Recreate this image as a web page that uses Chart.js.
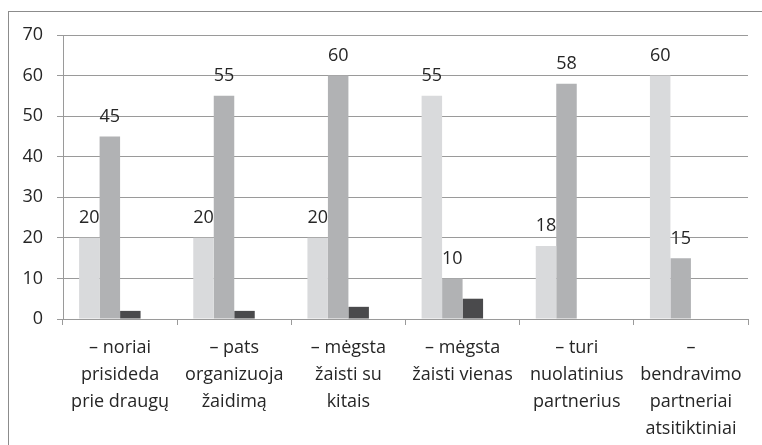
<!DOCTYPE html>
<html>
<head>
<meta charset="utf-8">
<script src="https://cdn.jsdelivr.net/npm/chart.js@4.4.0/dist/chart.umd.min.js"></script>
<style>
  html, body { margin: 0; padding: 0; background: #fff; overflow: hidden; }
  #frame { position: absolute; left: 8px; top: 11px; width: 800px; height: 500px; border: 1px solid #8c8c8c; }
  #chart { position: absolute; left: 0; top: 0; }
</style>
</head>
<body>
<div id="frame"></div>
<canvas id="chart" width="762" height="445"></canvas>
<script>
// Kategorijos (eilutėmis, kaip ant ašies)
const categories = [
    ['– noriai', 'prisideda', 'prie draugų'],
    ['– pats', 'organizuoja', 'žaidimą'],
    ['– mėgsta', 'žaisti su', 'kitais'],
    ['– mėgsta', 'žaisti vienas'],
    ['– turi', 'nuolatinius', 'partnerius'],
    ['–', 'bendravimo', 'partneriai', 'atsitiktiniai']
];

// Serijų reikšmės
const seriesA = [20, 20, 20, 55, 18, 60];
const seriesB = [45, 55, 60, 10, 58, 15];
const seriesC = [2, 2, 3, 5, 0, 0];
const seriesD = [null, null, null, null, null, null]; // tuščia serija (vieta grupėje)

const yTicks = [0, 10, 20, 30, 40, 50, 60, 70];

const FONT = { family: '"Open Sans", sans-serif', size: 18 };
const TEXT_COLOR = '#262626';
const GRID_COLOR = '#9a9a9a';

// Reikšmių etiketės virš pirmų dviejų serijų stulpelių
const valueLabels = {
    id: 'valueLabels',
    afterDatasetsDraw(chart) {
        const ctx = chart.ctx;
        ctx.save();
        ctx.font = `${FONT.size}px ${FONT.family}`;
        ctx.fillStyle = TEXT_COLOR;
        ctx.textAlign = 'center';
        ctx.textBaseline = 'alphabetic';
        [0, 1].forEach(di => {
            const meta = chart.getDatasetMeta(di);
            meta.data.forEach((bar, i) => {
                const v = chart.data.datasets[di].data[i];
                if (v === null || v === undefined) return;
                ctx.fillText(String(v), bar.x, bar.y - 14.5);
            });
        });
        ctx.restore();
    }
};

new Chart(document.getElementById('chart'), {
    type: 'bar',
    data: {
        labels: categories,
        datasets: [
            { label: 'A', data: seriesA, backgroundColor: '#d9dadc' },
            { label: 'B', data: seriesB, backgroundColor: '#b1b2b4' },
            { label: 'C', data: seriesC, backgroundColor: '#4a4a4c' },
            { label: 'D', data: seriesD, backgroundColor: '#ffffff' }
        ]
    },
    options: {
        responsive: false,
        animation: false,
        devicePixelRatio: 1,
        layout: { padding: { top: 35, right: 14, left: 0, bottom: 0 } },
        datasets: {
            bar: { barPercentage: 1, categoryPercentage: 0.718, borderWidth: 0 }
        },
        plugins: {
            legend: { display: false },
            tooltip: { enabled: false }
        },
        scales: {
            x: {
                grid: { drawOnChartArea: false, drawTicks: true, tickLength: 6, color: GRID_COLOR, offset: true },
                border: { color: GRID_COLOR },
                ticks: { font: { ...FONT, lineHeight: 1.5 }, color: TEXT_COLOR, padding: 9, maxRotation: 0, autoSkip: false },
                afterFit(scale) { scale.height = 126; }
            },
            y: {
                min: 0,
                max: 70,
                grid: { color: GRID_COLOR, tickLength: 6 },
                border: { color: GRID_COLOR },
                ticks: {
                    stepSize: 10,
                    font: FONT,
                    color: TEXT_COLOR,
                    padding: 14,
                    callback: (v) => yTicks.includes(v) ? String(v) : ''
                },
                afterFit(scale) { scale.width = 63; }
            }
        }
    },
    plugins: [valueLabels]
});
</script>
</body>
</html>
